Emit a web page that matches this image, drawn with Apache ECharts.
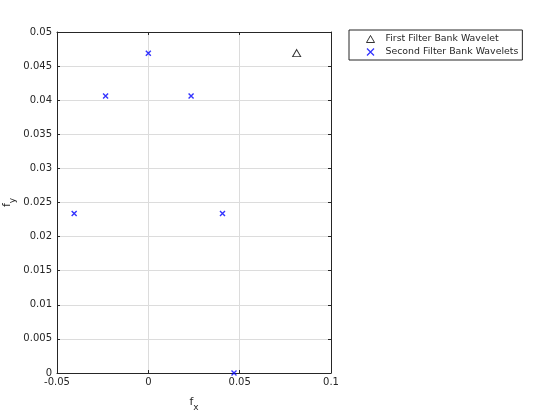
<!DOCTYPE html>
<html><head><meta charset="utf-8">
<script src="https://cdn.jsdelivr.net/npm/echarts@6/dist/echarts.min.js"></script>
<style>html,body{margin:0;padding:0;background:#fff}#c{width:560px;height:420px}</style>
</head><body><div id="c"></div>
<script>
const seriesNames = ['First Filter Bank Wavelet', 'Second Filter Bank Wavelets'];
const firstBank = [[0.0812, 0.0469]];
const secondBank = [[-0.0406, 0.0234], [-0.0234, 0.0406], [0, 0.0469], [0.0234, 0.0406], [0.0406, 0.0234], [0.0469, 0]];
const xTicks = [-0.05, 0, 0.05, 0.1];
const yTicks = [0, 0.005, 0.01, 0.015, 0.02, 0.025, 0.03, 0.035, 0.04, 0.045, 0.05];

const FONT = 'DejaVu Sans';
const TXT = '#262626';
const fmt = v => String(parseFloat(v.toFixed(4)));
const cross = 'path://M0,0L10,10M10,0L0,10';
const chart = echarts.init(document.getElementById('c'), null, {renderer: 'canvas'});
const hidden = {show: false};
const line = {show: true, onZero: false, lineStyle: {color: TXT, width: 1}};
const tick = {show: true, inside: true, length: 3, lineStyle: {color: TXT}};
chart.setOption({
  animation: false,
  textStyle: {fontFamily: FONT},
  grid: {left: 57, top: 32, right: 229, bottom: 47, show: false},
  legend: {
    orient: 'vertical', left: 349, top: 30, padding: [3, 4, 2, 15],
    borderColor: TXT, borderWidth: 1, itemGap: 1, itemWidth: 8, itemHeight: 7,
    textStyle: {fontFamily: FONT, fontSize: 9.4, color: TXT, padding: [0, 0, 0, 6]},
    data: [
      {name: seriesNames[0], icon: 'triangle', itemStyle: {color: 'none', borderColor: '#000', borderWidth: 1}},
      {name: seriesNames[1], icon: cross, itemStyle: {color: 'none', borderColor: '#0000ff', borderWidth: 1.3}}
    ]
  },
  xAxis: [{
    type: 'value', min: xTicks[0], max: xTicks[xTicks.length - 1], interval: 0.05,
    name: '{a|f}{b|x}', nameLocation: 'middle', nameGap: 20,
    nameTextStyle: {rich: {a: {fontSize: 11, color: TXT, fontFamily: FONT}, b: {fontSize: 9, color: TXT, fontFamily: FONT, padding: [10, 0, 0, 0]}}},
    axisLine: line, axisTick: tick,
    axisLabel: {fontSize: 10, color: TXT, margin: 4, fontFamily: FONT, formatter: fmt, showMinLabel: true, showMaxLabel: true},
    splitLine: {show: true, lineStyle: {color: '#dcdcdc'}}
  }, {
    type: 'value', position: 'top', min: xTicks[0], max: xTicks[xTicks.length - 1], interval: 0.05,
    axisLine: line, axisTick: tick, axisLabel: hidden, splitLine: hidden
  }],
  yAxis: [{
    type: 'value', min: yTicks[0], max: yTicks[yTicks.length - 1], interval: 0.005,
    name: '{a|f}{b|y}', nameLocation: 'middle', nameGap: 40, nameRotate: 90,
    nameTextStyle: {rich: {a: {fontSize: 11, color: TXT, fontFamily: FONT}, b: {fontSize: 9, color: TXT, fontFamily: FONT, padding: [10, 0, 0, 0]}}},
    axisLine: line, axisTick: tick,
    axisLabel: {fontSize: 10, color: TXT, margin: 5, fontFamily: FONT, formatter: fmt, showMinLabel: true, showMaxLabel: true},
    splitLine: {show: true, lineStyle: {color: '#dcdcdc'}}
  }, {
    type: 'value', position: 'right', min: yTicks[0], max: yTicks[yTicks.length - 1], interval: 0.005,
    axisLine: line, axisTick: tick, axisLabel: hidden, splitLine: hidden
  }],
  series: [{
    name: seriesNames[0], type: 'scatter', data: firstBank, symbol: 'triangle', symbolSize: [8, 7],
    itemStyle: {color: 'none', borderColor: '#000', borderWidth: 1}, z: 5
  }, {
    name: seriesNames[1], type: 'scatter', data: secondBank, symbol: cross, symbolSize: 5,
    itemStyle: {color: 'none', borderColor: '#0000ff', borderWidth: 1.4}, z: 5, clip: false
  }]
});
</script></body></html>
